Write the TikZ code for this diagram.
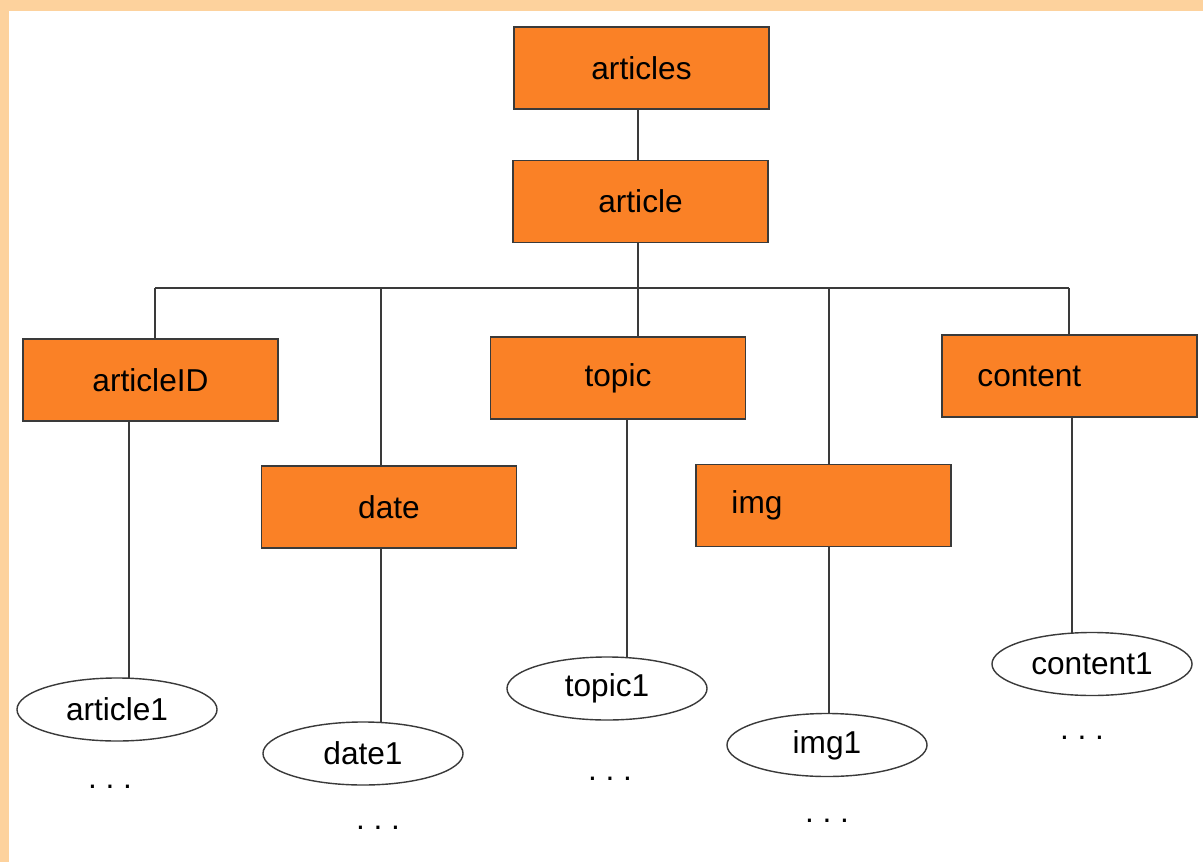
\documentclass[tikz,border=0pt]{standalone}
\usepackage{fontspec}
\setmainfont{Liberation Sans}
\usepackage{tikz}
\usetikzlibrary{shapes.geometric}

\definecolor{framepeach}{RGB}{253,210,157}
\definecolor{boxorange}{RGB}{250,129,38}
\definecolor{edgegray}{RGB}{58,58,58}
\newcommand{\treefont}{\fontsize{22.5}{26}\selectfont}

\tikzset{
    elembox/.style={draw=edgegray, line width=1pt, fill=boxorange, minimum width=6.375cm, minimum height=2.05cm, inner sep=0pt, font=\treefont},
    leftbox/.style={elembox, text width=4.6cm, align=left, inner xsep=0.8875cm},
    valoval/.style={ellipse, draw=edgegray, line width=1pt, fill=white, minimum width=5cm, minimum height=1.575cm, inner sep=0pt, font=\treefont},
    morevals/.style={inner sep=0pt, font=\treefont},
    link/.style={draw=edgegray, line width=1pt}
}

\begin{document}
\begin{tikzpicture}[x=0.025cm, y=-0.025cm]
        \useasboundingbox (0,0) rectangle (1203,862);
        \fill[white] (0,0) rectangle (1203,862);
        \fill[framepeach] (0,0) rectangle (1203,11);
        \fill[framepeach] (0,0) rectangle (9,862);

        % element boxes
        \node[elembox] (articles) at (641.5,68) {articles};
        \node[elembox] (article) at (640.5,201.5) {article};
        \node[elembox] (articleID) at (150.5,380) {articleID};
        \node[elembox] (date) at (389,507) {date};
        \node[elembox] (topic) at (618,378) {topic};
        \node[leftbox] (img) at (823.5,505.5) {img};
        \node[leftbox] (content) at (1069.5,376) {content};

        % values
        \node[valoval] (article1) at (117,709.5) {article1};
        \node[valoval] (date1) at (363,753.5) {date1};
        \node[valoval] (topic1) at (607,688.5) {topic1};
        \node[valoval] (img1) at (827,745) {img1};
        \node[valoval] (content1) at (1092,664) {content1};

        \node[morevals] (moreA) at (110,787) {.\ .\ .};
        \node[morevals] (moreB) at (378,828) {.\ .\ .};
        \node[morevals] (moreC) at (610,779) {.\ .\ .};
        \node[morevals] (moreD) at (827,821) {.\ .\ .};
        \node[morevals] (moreE) at (1082,738) {.\ .\ .};

        % bus
        \coordinate (hub) at (638,288);
        \coordinate (tapA) at (155,288);
        \coordinate (tapB) at (381,288);
        \coordinate (tapD) at (829,288);
        \coordinate (tapE) at (1069,288);
        \draw[link] (articles.south -| hub) -- (article.north -| hub);
        \draw[link] (article.south -| hub) -- (hub);
        \draw[link] (tapA) -- (tapE);
        \draw[link] (tapA) -- (tapA |- articleID.north);
        \draw[link] (tapB) -- (tapB |- date.north);
        \draw[link] (hub) -- (hub |- topic.north);
        \draw[link] (tapD) -- (tapD |- img.north);
        \draw[link] (tapE) -- (tapE |- content.north);

        % drops to values
        \coordinate (dropA) at (129,679);
        \coordinate (dropB) at (381,723);
        \coordinate (dropC) at (627,658);
        \coordinate (dropD) at (829,714);
        \coordinate (dropE) at (1072,634);
        \draw[link] (dropA |- articleID.south) -- (dropA);
        \draw[link] (dropB |- date.south) -- (dropB);
        \draw[link] (dropC |- topic.south) -- (dropC);
        \draw[link] (dropD |- img.south) -- (dropD);
        \draw[link] (dropE |- content.south) -- (dropE);
        %\draw[link, dashed] (tapA) -- (tapA |- article1.north);
\end{tikzpicture}
\end{document}
